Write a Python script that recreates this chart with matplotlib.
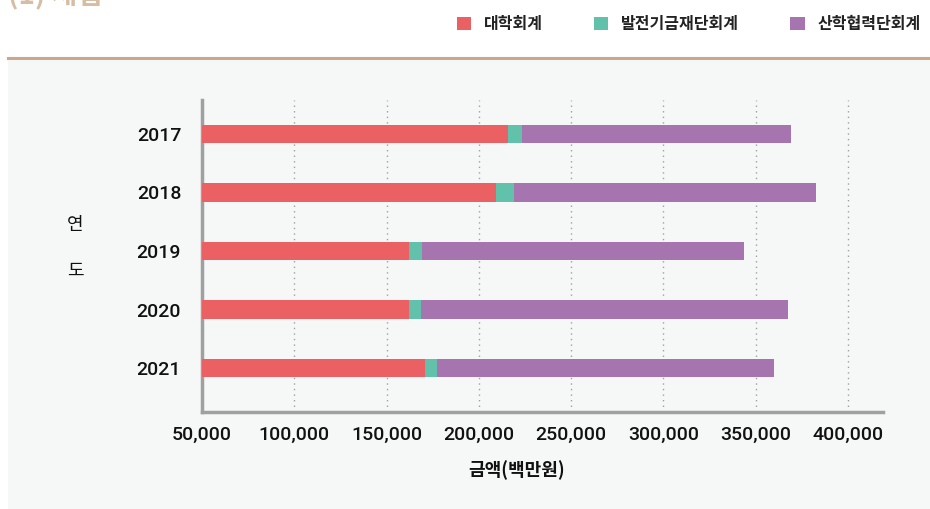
import numpy as np
import matplotlib
matplotlib.use("Agg")
import matplotlib.pyplot as plt
from matplotlib.patches import Rectangle
from matplotlib.lines import Line2D

plt.rcParams['font.family'] = ['Noto Sans CJK KR', 'DejaVu Sans']

# 데이터 (백만원)
years = ['2017', '2018', '2019', '2020', '2021']
univ = [215800, 209300, 162100, 162100, 170800]      # 대학회계
fund = [7600, 9700, 7100, 6500, 6500]                 # 발전기금재단회계
coop = [145700, 163600, 174400, 198800, 182500]      # 산학협력단회계
series_names = ['대학회계', '발전기금재단회계', '산학협력단회계']
colors = ['#eb6063', '#62c1ab', '#a674ae']
xticks = [50000, 100000, 150000, 200000, 250000, 300000, 350000, 400000]

W, H = 930, 509
fig = plt.figure(figsize=(W / 100, H / 100), dpi=100)
fig.patch.set_facecolor('white')

# 회색 배경 패널 + 상단 선
fig.patches.append(Rectangle((8 / W, 0), 1 - 8 / W, 1 - 58 / H, transform=fig.transFigure,
                             facecolor='#f6f8f8', edgecolor='none', zorder=-2))
fig.lines.append(Line2D([8 / W, 1], [1 - 58 / H, 1 - 58 / H], transform=fig.transFigure,
                        color='#c9a98c', lw=2.2, zorder=-1))

# 잘린 제목
fig.text(8 / W, 1 + 4 / H, '(1) 세입', color='#d6bea5', fontsize=20, fontweight='bold',
         va='center', ha='left')

ax = fig.add_axes([202 / W, 1 - 412 / H, (883 - 202) / W, (412 - 100) / H])
ax.set_facecolor('none')

y = np.arange(len(years))
univ = np.array(univ); fund = np.array(fund); coop = np.array(coop)
h = 0.31
ax.barh(y, univ, height=h, color=colors[0], label=series_names[0], zorder=3)
ax.barh(y, fund, left=univ, height=h, color=colors[1], label=series_names[1], zorder=3)
ax.barh(y, coop, left=univ + fund, height=h, color=colors[2], label=series_names[2], zorder=3)

ax.set_xlim(50000, 419000)
ax.set_ylim(4.75, -0.58)
ax.set_xticks(xticks)
ax.set_xticklabels([f'{v:,}' for v in xticks])
ax.set_yticks(y)
ax.set_yticklabels(years)
ax.tick_params(length=0)
ax.tick_params(axis='x', pad=10, labelsize=14, labelcolor='#111111')
ax.tick_params(axis='y', pad=15, labelsize=14, labelcolor='#111111')
for lab in ax.get_xticklabels() + ax.get_yticklabels():
    lab.set_family(['Roboto', 'DejaVu Sans'])
    lab.set_fontweight('medium')

for s in ['top', 'right']:
    ax.spines[s].set_visible(False)
for s in ['left', 'bottom']:
    ax.spines[s].set_color('#a0a0a0')
    ax.spines[s].set_linewidth(2.5)

for v in xticks[1:]:
    ax.axvline(v, color='#a0a0a0', lw=1, ls=(0, (1, 3)), zorder=1)

fig.text(517 / W, 1 - 470 / H, '금액(백만원)', fontsize=13, color='#111111',
         ha='center', va='center', fontweight='bold')
fig.text(75 / W, 1 - 225 / H, '연', fontsize=13, color='#111111',
         ha='center', va='center', fontweight='medium')
fig.text(75 / W, 1 - 271 / H, '도', fontsize=13, color='#111111',
         ha='center', va='center', fontweight='medium')

# 범례
leg = ax.legend(loc='upper right', bbox_to_anchor=(935 / W, 1 - 2 / H),
                bbox_transform=fig.transFigure, ncol=3, frameon=False,
                prop={'size': 11.5, 'weight': 'bold'}, handlelength=0.9, handleheight=0.9,
                columnspacing=3.2, handletextpad=0.8)
for t in leg.get_texts():
    t.set_color('#222222')

fig.savefig('out.png', dpi=100)
